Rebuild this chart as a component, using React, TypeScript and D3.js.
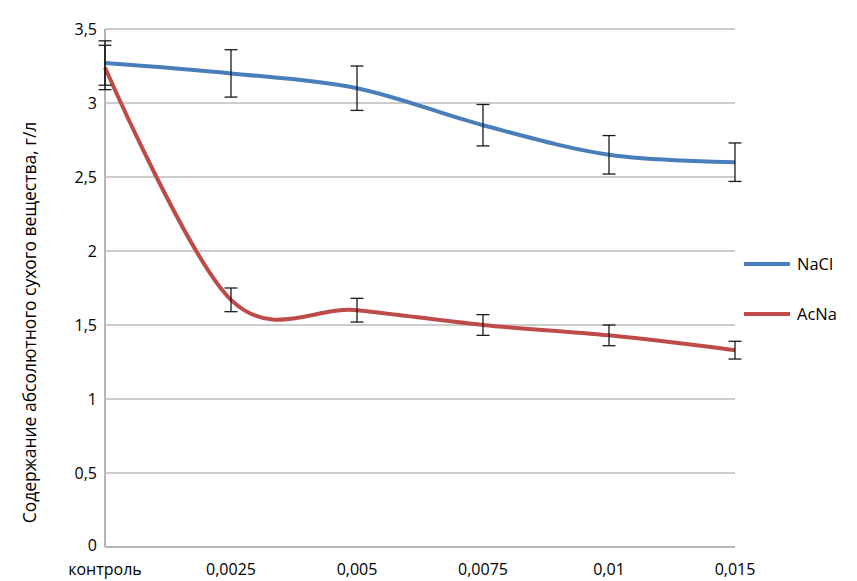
import React from "react";
import * as d3 from "d3";

const categories = ["контроль", "0,0025", "0,005", "0,0075", "0,01", "0,015"];
const naclValues = [3.27, 3.2, 3.1, 2.85, 2.65, 2.6];
const naclErrLow = [3.12, 3.04, 2.95, 2.71, 2.52, 2.47];
const naclErrHigh = [3.42, 3.36, 3.25, 2.99, 2.78, 2.73];
const acnaValues = [3.24, 1.67, 1.6, 1.5, 1.43, 1.33];
const acnaErrLow = [3.09, 1.59, 1.52, 1.43, 1.36, 1.27];
const acnaErrHigh = [3.39, 1.75, 1.68, 1.57, 1.5, 1.39];
const yTicks = [0, 0.5, 1, 1.5, 2, 2.5, 3, 3.5];
const seriesNames = ["NaCl", "AcNa"];
const seriesColors = ["#4a7ebb", "#be4b48"];

const W = 857, H = 581;
const left = 105, right = 735, top = 29, bottom = 547;
const font = "'Open Sans', 'Noto Sans', sans-serif";
const fs = 16;

export default function App() {
  const x = d3.scalePoint<string>().domain(categories).range([left, right]);
  const y = d3.scaleLinear().domain([0, 3.5]).range([bottom, top]);
  const line = d3
    .line<number>()
    .x((_, i) => x(categories[i]) as number)
    .y((d) => y(d))
    .curve(d3.curveCardinal.tension(0));
  const series = [
    { name: seriesNames[0], color: seriesColors[0], v: naclValues, lo: naclErrLow, hi: naclErrHigh },
    { name: seriesNames[1], color: seriesColors[1], v: acnaValues, lo: acnaErrLow, hi: acnaErrHigh },
  ];
  const fmt = (t: number) => String(t).replace(".", ",");
  return (
    <svg width={W} height={H} style={{ position: "absolute", left: 0, top: 0, background: "#fff" }}>
      {yTicks.map((t) => (
        <g key={t}>
          {t > 0 && <line x1={left} x2={right} y1={y(t)} y2={y(t)} stroke="#bdbdbd" strokeWidth={1.3} />}
          <text x={97} y={y(t) - (t === 0 ? 2 : 0)} dy="0.35em" textAnchor="end" fontFamily={font} fontSize={fs} fill="#000">
            {fmt(t)}
          </text>
        </g>
      ))}
      <line x1={left} x2={left} y1={top} y2={bottom} stroke="#b5b5b5" strokeWidth={2} />
      <line x1={left} x2={right} y1={bottom} y2={bottom} stroke="#b5b5b5" strokeWidth={2} />
      {categories.map((c) => (
        <text key={c} x={x(c)} y={569} dy="0.35em" textAnchor="middle" fontFamily={font} fontSize={fs} fill="#000">
          {c}
        </text>
      ))}
      <text
        transform={`translate(30, ${(130 + 515) / 2}) rotate(-90)`}
        textAnchor="middle"
        dy="0.35em"
        fontFamily={font}
        fontSize={17.5}
        fill="#000"
      >
        Содержание абсолютного сухого вещества, г/л
      </text>
      {series.map((s) => (
        <path key={s.name} d={line(s.v) || ""} fill="none" stroke={s.color} strokeWidth={4} />
      ))}
      {series.map((s) =>
        s.v.map((_, i) => {
          const cx = x(categories[i]) as number;
          return (
            <g key={s.name + i} stroke="#1a1a1a" strokeWidth={1.3}>
              <line x1={cx} x2={cx} y1={y(s.lo[i])} y2={y(s.hi[i])} />
              <line x1={cx - 6.5} x2={cx + 6.5} y1={y(s.lo[i])} y2={y(s.lo[i])} />
              <line x1={cx - 6.5} x2={cx + 6.5} y1={y(s.hi[i])} y2={y(s.hi[i])} />
            </g>
          );
        })
      )}
      {series.map((s, i) => (
        <g key={"lg" + s.name}>
          <line x1={744} x2={790} y1={264 + i * 50} y2={264 + i * 50} stroke={s.color} strokeWidth={4} />
          <text x={797} y={264 + i * 50} dy="0.35em" fontFamily={font} fontSize={fs + 0.5} fill="#000">
            {s.name}
          </text>
        </g>
      ))}
    </svg>
  );
}
